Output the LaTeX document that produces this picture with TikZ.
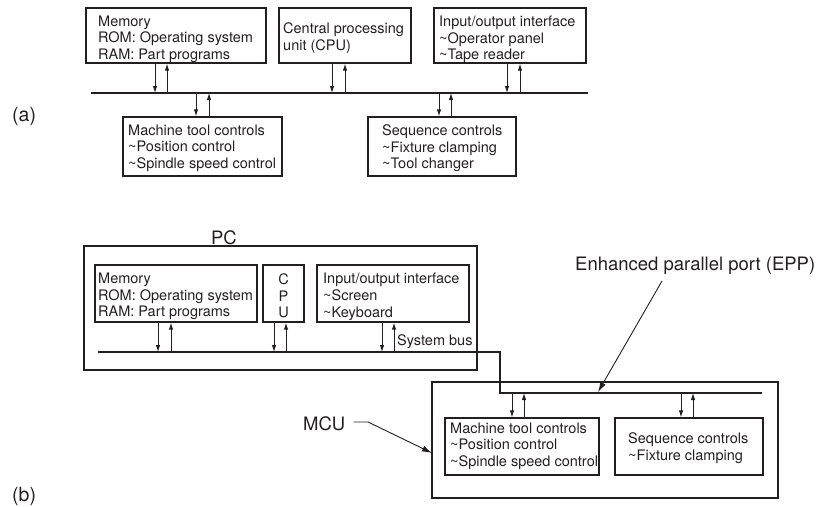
\documentclass[tikz,border=0pt]{standalone}
\usepackage{fontspec}
\setmainfont{TeX Gyre Heros}
\usetikzlibrary{arrows.meta}
\definecolor{ink}{RGB}{35,31,32}
\begin{document}
\begin{tikzpicture}[x=1pt,y=-1pt,
  box/.style={draw=ink, line width=1.3pt, inner sep=0pt},
  txt/.style={anchor=north west, inner sep=0pt, align=left, text=ink,
    font=\fontsize{14.5}{16.7}\selectfont},
  lbl/.style={inner sep=0pt, text=ink, font=\fontsize{18.5}{22}\selectfont},
  bus/.style={draw=ink, line width=1.6pt},
  arr/.style={draw=ink, line width=0.9pt, -{Latex[length=7pt,width=4.5pt]}},
  ptr/.style={draw=ink, line width=0.9pt, -{Latex[length=10pt,width=6pt]}}]
\useasboundingbox (0,0) rectangle (819,506);

% ---------- (a) conventional CNC ----------
\node[lbl, anchor=base west, font=\fontsize{19.5}{22}\selectfont] (labA) at (12,121) {(a)};

\node[box, minimum width=180pt, minimum height=55pt] (memA) at (176,35.5) {};
\node[box, minimum width=132pt, minimum height=55pt] (cpuA) at (345,35.5) {};
\node[box, minimum width=152pt, minimum height=55pt] (ioA)  at (510,35.5) {};
\node[box, minimum width=159pt, minimum height=59pt] (mtcA) at (202.5,146.5) {};
\node[box, minimum width=148pt, minimum height=59pt] (seqA) at (442,146.5) {};

\node[txt] (memAt) at (98,15.5) {Memory\\ROM: Operating system\\RAM: Part programs};
\node[txt] (cpuAt) at (283,22.8) {Central processing\\unit (CPU)};
\node[txt] (ioAt)  at (439,15.5) {Input/output interface\\\textasciitilde Operator panel\\\textasciitilde Tape reader};
\node[txt] (mtcAt) at (128,124.5) {Machine tool controls\\\textasciitilde Position control\\\textasciitilde Spindle speed control};
\node[txt] (seqAt) at (382,124.5) {Sequence controls\\\textasciitilde Fixture clamping\\\textasciitilde Tool changer};

\coordinate (busAL) at (91,93);
\coordinate (busAR) at (588,93);
\draw[bus] (busAL) -- (busAR);

\foreach \b/\xd/\xu in {memA/155/167, cpuA/332/345, ioA/507/520}{
  \coordinate (bd) at (\xd,93);
  \coordinate (bu) at (\xu,93);
  \draw[arr] (\b.south -| bd) -- (bd);
  \draw[arr] (bu) -- (\b.south -| bu);
}
\foreach \b/\xd/\xu in {mtcA/196/209, seqA/439/451}{
  \coordinate (bd) at (\xd,93);
  \coordinate (bu) at (\xu,93);
  \draw[arr] (bd) -- (\b.north -| bd);
  \draw[arr] (\b.north -| bu) -- (bu);
}

% ---------- (b) PC-based CNC ----------
\node[lbl, anchor=base west, font=\fontsize{19.5}{22}\selectfont] (labB) at (12,501) {(b)};

\node[box, minimum width=393pt, minimum height=124pt] (pc) at (280.5,308) {};
\node[lbl, anchor=base] (pcL) at (224,244) {PC};

\node[box, minimum width=162pt, minimum height=57pt] (memB) at (176,293.5) {};
\node[box, minimum width=41pt,  minimum height=57pt] (cpuB) at (283.5,293.5) {};
\node[box, minimum width=152pt, minimum height=57pt] (ioB)  at (393,293.5) {};

\node[txt] (memBt) at (98,272.8) {Memory\\ROM: Operating system\\RAM: Part programs};
\node[txt, anchor=north, align=center] (cpuBt) at (283.5,273.5) {C\\P\\U};
\node[txt] (ioBt) at (323,272.8) {Input/output interface\\\textasciitilde Screen\\\textasciitilde Keyboard};

\node[box, minimum width=346pt, minimum height=116pt] (mcu) at (605,440) {};
\node[box, minimum width=154pt, minimum height=57pt] (mtcB) at (522,446.5) {};
\node[box, minimum width=148pt, minimum height=57pt] (seqB) at (689,446.5) {};

\node[txt] (mtcBt) at (450,422.5) {Machine tool controls\\\textasciitilde Position control\\\textasciitilde Spindle speed control};
\node[txt] (seqBt) at (628,432.5) {Sequence controls\\\textasciitilde Fixture clamping};

% system bus running out of the PC into the MCU
\coordinate (sbL) at (98,352);
\coordinate (sbK1) at (500,352);
\coordinate (sbK2) at (500,393);
\coordinate (sbR) at (762,393);
\draw[bus] (sbL) -- (sbK1) -- (sbK2) -- (sbR);
\node[txt, anchor=base west] (sbus) at (397,345) {System bus};

\foreach \b/\xd/\xu in {memB/158/171, cpuB/274/286, ioB/382/394}{
  \coordinate (bd) at (\xd,352);
  \coordinate (bu) at (\xu,352);
  \draw[arr] (\b.south -| bd) -- (bd);
  \draw[arr] (bu) -- (\b.south -| bu);
}
\foreach \b/\xd/\xu in {mtcB/512/524, seqB/681/693}{
  \coordinate (bd) at (\xd,393);
  \coordinate (bu) at (\xu,393);
  \draw[arr] (bd) -- (\b.north -| bd);
  \draw[arr] (\b.north -| bu) -- (bu);
}

% callouts
\node[lbl, anchor=base west] (eppL) at (575,270) {Enhanced parallel port (EPP)};
\coordinate (eppS) at (662,281);
\coordinate (eppT) at (598,392);
\draw[ptr] (eppS) -- (eppT);

\node[lbl, anchor=base west] (mcuL) at (303,430) {MCU};
\coordinate (mcuT) at (432,453);
\draw[ptr] ([xshift=8pt]mcuL.east |- 0,422) -- (368,422) -- (mcuT);

\end{tikzpicture}
\end{document}
